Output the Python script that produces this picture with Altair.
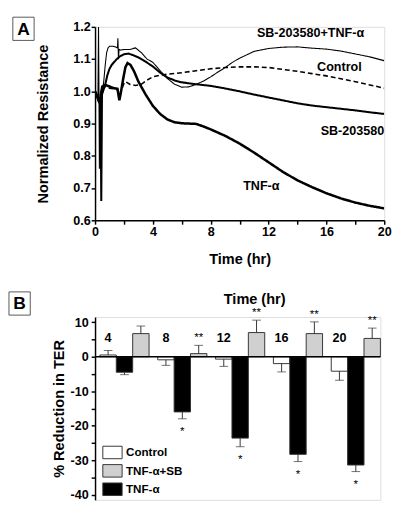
import altair as alt
import pandas as pd

# ---------------- Panel A data ----------------
series_names = ["SB-203580+TNF-α", "Control", "SB-203580", "TNF-α"]

sbtnf_t = [0, 0.1, 0.2, 0.24, 0.27, 0.3, 0.33, 0.4, 0.5, 0.6, 0.7, 0.8, 0.9, 1.0, 1.2, 1.4, 1.55, 1.58, 1.62, 1.66, 1.75,
           2.0, 2.4, 2.8, 3.2, 3.6, 4.0, 4.5, 5.0, 5.5, 6.0, 6.5, 7.0, 7.5, 8.0, 8.5, 9.0, 9.5, 10, 11, 12, 13, 14, 15,
           16, 17, 18, 19, 20]
sbtnf_v = [1.0, 0.99, 0.98, 1.2, 1.0, 0.76, 0.97, 0.99, 1.0, 1.03, 1.08, 1.12, 1.135, 1.14, 1.14, 1.138, 1.135, 1.165,
           1.1, 1.13, 1.128, 1.13, 1.13, 1.135, 1.12, 1.1, 1.09, 1.064, 1.04, 1.022, 1.013, 1.014, 1.022, 1.032, 1.045,
           1.06, 1.074, 1.09, 1.103, 1.124, 1.133, 1.137, 1.138, 1.134, 1.131, 1.125, 1.116, 1.107, 1.095]

sb_t = [0, 0.1, 0.2, 0.3, 0.38, 0.43, 0.48, 0.55, 0.7, 0.85, 1.0, 1.15, 1.3, 1.5, 1.7, 2.0, 2.3, 2.6, 3.0, 3.5, 4.0,
        4.5, 5.0, 5.5, 6.0, 7.0, 8.0, 9.0, 10, 11, 12, 13, 14, 15, 16, 17, 18, 19, 20]
sb_v = [1.0, 0.99, 0.975, 0.965, 0.98, 0.66, 0.99, 1.0, 1.02, 1.05, 1.07, 1.082, 1.09, 1.1, 1.108, 1.115, 1.117, 1.113,
        1.105, 1.092, 1.077, 1.058, 1.043, 1.034, 1.028, 1.022, 1.017, 1.009, 1.0, 0.99, 0.981, 0.972, 0.963, 0.956,
        0.951, 0.946, 0.941, 0.935, 0.93]

tnf_t = [0, 0.15, 0.3, 0.4, 0.5, 0.7, 1.0, 1.3, 1.55, 1.68, 1.8, 1.95, 2.1, 2.25, 2.45, 2.7, 3.0, 3.5, 4.0, 4.5, 5.0,
         5.5, 6.0, 6.5, 7.0, 7.5, 8.0, 9.0, 10, 11, 12, 13, 14, 15, 16, 17, 18, 19, 20]
tnf_v = [1.0, 0.985, 0.965, 0.99, 1.015, 1.02, 1.015, 1.01, 1.008, 0.972, 1.0, 1.04, 1.075, 1.088, 1.082, 1.062, 1.03,
         0.99, 0.955, 0.93, 0.913, 0.904, 0.901, 0.9, 0.899, 0.891, 0.882, 0.862, 0.838, 0.81, 0.78, 0.75, 0.724,
         0.703, 0.684, 0.668, 0.655, 0.645, 0.637]

ctrl_t = [0, 0.15, 0.3, 0.4, 0.5, 0.7, 1.0, 1.3, 1.55, 1.68, 1.8, 1.95, 2.1, 2.4, 2.8, 3.2, 3.6, 4.0, 4.5, 5.0, 6.0,
          7.0, 8.0, 9.0, 10, 11, 12, 13, 14, 15, 16, 17, 18, 19, 20]
ctrl_v = [1.0, 0.985, 0.97, 0.99, 1.01, 1.015, 1.01, 1.008, 1.005, 0.975, 1.0, 1.02, 1.03, 1.022, 1.018, 1.022, 1.035,
          1.045, 1.05, 1.053, 1.058, 1.064, 1.07, 1.074, 1.076, 1.076, 1.074, 1.068, 1.062, 1.055, 1.048, 1.039, 1.03,
          1.02, 1.01]

label_t = [14.9, 16.9, 17.8, 11.5]
label_v = [1.182, 1.074, 0.877, 0.706]

# ---------------- Panel B data ----------------
times = [4, 8, 12, 16, 20]
bar_groups = ["Control", "TNF-α", "TNF-α+SB"]
legend_order = ["Control", "TNF-α+SB", "TNF-α"]
control = [0.5, -0.9, -0.7, -2.0, -4.2]
control_err = [1.8, -2.5, -2.8, -4.4, -6.8]
tnf = [-4.5, -16.0, -23.6, -28.3, -31.4]
tnf_err = [-5.2, -18.0, -26.1, -30.4, -33.3]
tnf_sb = [6.7, 0.9, 7.0, 6.7, 5.3]
tnf_sb_err = [8.9, 3.3, 10.6, 10.1, 8.3]
tnf_star = ["", "*", "*", "*", "*"]
sb_star = ["", "**", "**", "**", "**"]
label_level = [5.5]

FONT = "Liberation Sans"
Y_DOM_B = [-41.5, 11.5]
PAD0 = {"left": 0, "top": 0, "right": 0, "bottom": 0}

# ---------------- Build panel A ----------------
rows = []
for name, ts, vs in [(series_names[0], sbtnf_t, sbtnf_v), (series_names[1], ctrl_t, ctrl_v),
                     (series_names[2], sb_t, sb_v), (series_names[3], tnf_t, tnf_v)]:
    for t, v in zip(ts, vs):
        rows.append({"series": name, "t": t, "v": v})
df_lines = pd.DataFrame(rows)
df_labels = pd.DataFrame({"label": series_names, "t": label_t, "v": label_v})

xA_scale = alt.Scale(domain=[0, 20], nice=False)
yA_scale = alt.Scale(domain=[0.6, 1.2], nice=False, zero=False)
xA_axis = alt.Axis(values=list(range(0, 21, 2)), labelExpr="datum.value % 4 == 0 ? datum.label : ''",
                   title="Time (hr)", tickSize=4, labelPadding=2, labelFontSize=13,
                   titleFontSize=15, labelFlush=False, titlePadding=14, labelOverlap=False)
yA_axis = alt.Axis(values=[0.6, 0.7, 0.8, 0.9, 1.0, 1.1, 1.2], format=".1f", title="Normalized Resistance",
                   tickSize=4, labelPadding=1, labelFontSize=13, titleFontSize=15,
                   labelFlush=False, titlePadding=23, labelOverlap=False)

linesA = alt.Chart(df_lines).mark_line(color="black", clip=True).encode(
    x=alt.X("t:Q", scale=xA_scale, axis=xA_axis),
    y=alt.Y("v:Q", scale=yA_scale, axis=yA_axis),
    detail="series:N",
    strokeWidth=alt.StrokeWidth("series:N", scale=alt.Scale(domain=series_names, range=[1.1, 2.6, 1.1, 3.2]),
                                legend=None),
    strokeDash=alt.StrokeDash("series:N", scale=alt.Scale(domain=series_names,
                                                          range=[[1, 0], [5, 3], [1, 0], [1, 0]]), legend=None),
)
labelsA = alt.Chart(df_labels).mark_text(fontSize=13, fontWeight="bold", font=FONT, fill="black").encode(
    x=alt.X("t:Q", scale=xA_scale, axis=xA_axis),
    y=alt.Y("v:Q", scale=yA_scale, axis=yA_axis), text="label:N")

panelA_df = pd.DataFrame({"p": ["A"]})
boxA = alt.Chart(panelA_df).mark_rect(fill="white", stroke="#555", strokeWidth=1).encode(
    x=alt.value(-85), x2=alt.value(-63), y=alt.value(-10), y2=alt.value(14))
letterA = alt.Chart(panelA_df).mark_text(fontSize=18, fontWeight="bold", font=FONT, fill="black").encode(
    x=alt.value(-74), y=alt.value(3), text="p:N")

chartA = alt.layer(linesA, labelsA, boxA, letterA).properties(width=299, height=200)

# ---------------- Build panel B ----------------
brows = []
for i, t in enumerate(times):
    brows.append({"time": t, "group": "Control", "value": control[i], "err": control_err[i], "star": "",
                  "lab": label_level[0]})
    brows.append({"time": t, "group": "TNF-α", "value": tnf[i], "err": tnf_err[i], "star": tnf_star[i],
                  "lab": label_level[0]})
    brows.append({"time": t, "group": "TNF-α+SB", "value": tnf_sb[i], "err": tnf_sb_err[i], "star": sb_star[i],
                  "lab": label_level[0]})
df_bars = pd.DataFrame(brows)

xB = alt.X("time:O", scale=alt.Scale(paddingInner=0.15, paddingOuter=0.042, align=1), axis=None)
xoffB = alt.XOffset("group:N", scale=alt.Scale(domain=bar_groups, paddingInner=0, paddingOuter=0))
yB_scale = alt.Scale(domain=Y_DOM_B, nice=False, zero=False)
yB_axis = alt.Axis(values=list(range(-40, 11, 5)),
                   labelExpr="datum.value % 10 == 0 ? '' + datum.value : ''",
                   title="% Reduction in TER", tickSize=4, labelPadding=3,
                   labelFontSize=13, titleFontSize=15, labelFlush=False, titlePadding=4,
                   labelOverlap=False)

bars = alt.Chart(df_bars).mark_bar(stroke="#333", strokeWidth=1).encode(
    x=xB, xOffset=xoffB,
    y=alt.Y("value:Q", scale=yB_scale, axis=yB_axis), y2=alt.datum(0),
    fill=alt.Fill("group:N", scale=alt.Scale(domain=legend_order, range=["white", "#d0d0d0", "black"]),
                  legend=alt.Legend(title=None, orient="none", legendX=8, legendY=430, padding=0,
                                    symbolType="M-1.05,-0.68L1.05,-0.68L1.05,0.68L-1.05,0.68Z", symbolSize=361,
                                    symbolStrokeColor="#333", symbolStrokeWidth=1, symbolOpacity=1,
                                    labelFontSize=12, labelFontWeight="bold", labelFont=FONT,
                                    labelOffset=4, rowPadding=0, labelColor="black")),
)
zero_line = alt.Chart(pd.DataFrame({"value": [0]})).mark_rule(color="black", strokeWidth=1.5).encode(
    y=alt.Y("value:Q", scale=yB_scale, axis=yB_axis))
err_rules = alt.Chart(df_bars).mark_rule(color="#333", strokeWidth=1).encode(
    x=xB, xOffset=xoffB, y=alt.Y("value:Q", scale=yB_scale, axis=yB_axis), y2="err:Q")
err_caps = alt.Chart(df_bars).mark_tick(color="#333", size=9, thickness=1).encode(
    x=xB, xOffset=xoffB, y=alt.Y("err:Q", scale=yB_scale, axis=yB_axis))
stars_down = alt.Chart(df_bars).transform_filter("datum.group == 'TNF-α'").mark_text(
    fontSize=12, font=FONT, fill="black", baseline="alphabetic", dy=17).encode(
    x=xB, xOffset=xoffB, y=alt.Y("err:Q", scale=yB_scale, axis=yB_axis), text="star:N")
stars_up = alt.Chart(df_bars).transform_filter("datum.group == 'TNF-α+SB'").mark_text(
    fontSize=12, font=FONT, fill="black", baseline="alphabetic", dy=-4).encode(
    x=xB, xOffset=xoffB, y=alt.Y("err:Q", scale=yB_scale, axis=yB_axis), text="star:N")
time_labels = alt.Chart(df_bars).transform_filter("datum.group == 'Control'").mark_text(
    fontSize=13, fontWeight="bold", font=FONT, fill="black").encode(
    x=xB, xOffset=xoffB, y=alt.Y("lab:Q", scale=yB_scale, axis=yB_axis), text="time:N")

panelB_df = pd.DataFrame({"p": ["B"], "title": ["Time (hr)"]})
boxB = alt.Chart(panelB_df).mark_rect(fill="white", stroke="#555", strokeWidth=1).encode(
    x=alt.value(-89), x2=alt.value(-67), y=alt.value(-26), y2=alt.value(-2))
letterB = alt.Chart(panelB_df).mark_text(fontSize=18, fontWeight="bold", font=FONT, fill="black").encode(
    x=alt.value(-78), y=alt.value(-13), text="p:N")
titleB = alt.Chart(panelB_df).mark_text(fontSize=15, fontWeight="bold", font=FONT, fill="black").encode(
    x=alt.value(165), y=alt.value(-19), text="title:N")

chartB = alt.layer(bars, zero_line, err_rules, err_caps, stars_down, stars_up, time_labels,
                   boxB, letterB, titleB).properties(width=295, height=189)

chart = alt.vconcat(chartA, chartB, spacing=24).properties(
    padding=PAD0
).configure_view(stroke=None).configure(font=FONT, padding=PAD0).configure_axis(
    labelFont=FONT, titleFont=FONT, labelFontWeight="bold", titleFontWeight="bold",
    labelColor="black", titleColor="black", domainColor="black", tickColor="black",
    domainWidth=1.5, tickWidth=1.5, grid=False, labelOverlap=False)

chart.save("out.html", embed_options={"renderer": "svg", "actions": False})
